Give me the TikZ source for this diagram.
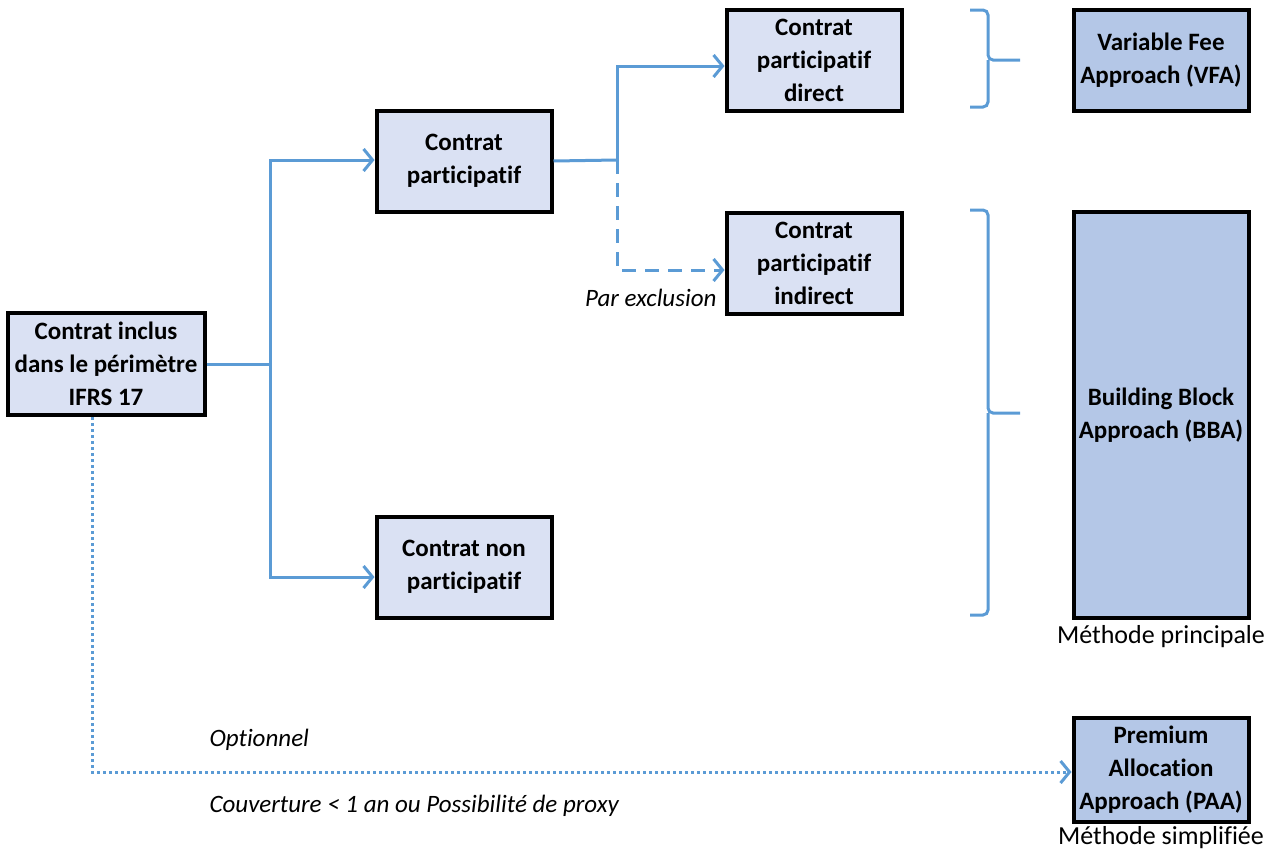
\documentclass[tikz,border=0pt]{standalone}
\usepackage{fontspec}
\setmainfont{Carlito}[Ligatures=NoCommon]
\usetikzlibrary{arrows.meta}
\definecolor{lienbleu}{HTML}{5B9BD5}
\definecolor{fondclair}{HTML}{DAE1F3}
\definecolor{fondfonce}{HTML}{B4C7E7}
\tikzset{
    boite/.style={draw=black, line width=4pt, fill=fondclair, align=center,
        minimum width=175pt, minimum height=101pt, inner sep=2pt,
        font=\fontsize{25}{33}\selectfont\bfseries},
    methode/.style={boite, fill=fondfonce},
    lien/.style={draw=lienbleu, line width=3pt},
    fleche/.style={lien, -{Straight Barb[length=9pt,width=22pt,line width=3pt]}},
    legende/.style={font=\fontsize{26}{30}\selectfont},
    note/.style={font=\fontsize{25}{30}\selectfont\itshape},
}
\begin{document}
\begin{tikzpicture}[x=1pt, y=-1pt]
    \useasboundingbox (0,0) rectangle (1277,854);
    % contrats
    \node[boite, minimum width=197pt, minimum height=102pt] (incl) at (106,364) {Contrat inclus\\dans le périmètre\\IFRS 17};
    \node[boite] (part) at (464,161) {Contrat\\participatif};
    \node[boite] (nonpart) at (464,567) {Contrat non\\participatif};
    \node[boite] (direct) at (814,60) {Contrat\\participatif\\direct};
    \node[boite] (indirect) at (814,263) {Contrat\\participatif\\indirect};
    % methodes
    \node[methode] (vfa) at (1161,60) {Variable Fee\\Approach (VFA)};
    \node[methode, minimum height=406pt] (bba) at (1161,415) {Building Block\\Approach (BBA)};
    \node[methode, minimum height=104pt] (paa) at (1161,770) {Premium\\Allocation\\Approach (PAA)};
    \node[legende] (princ) at (1161,637) {Méthode principale};
    \node[legende] (simpl) at (1161,838) {Méthode simplifiée};
    % liens
    \draw[lien] (incl.east) -- (270,364) coordinate (j1);
    \draw[fleche] (j1) |- ([yshift=1pt]part.west);
    \draw[fleche] (j1) |- ([yshift=-10pt]nonpart.west);
    \draw[lien] (part.east) -- (617,160) coordinate (j2);
    \draw[fleche] (j2) |- ([yshift=-6pt]direct.west);
    \draw[fleche, dash pattern=on 14pt off 9pt] (j2) |- ([yshift=-7pt]indirect.west);
    \node[note, anchor=east] (excl) at (720,298) {Par exclusion};
    \draw[fleche, dash pattern=on 3pt off 3pt] ([xshift=-14pt]incl.south) |- ([yshift=-2pt]paa.west);
    \node[note, anchor=west] (opt) at (206,740) {Optionnel};
    \node[note, anchor=west] (couv) at (206,806) {Couverture < 1 an ou Possibilité de proxy};
    % accolades
    \draw[lien, rounded corners=5pt] (970,10) -| (988,60) -- (1020,60);
    \draw[lien, rounded corners=5pt] (970,107) -| (988,60);
    \draw[lien, rounded corners=5pt] (970,210) -| (988,413) -- (1020,413);
    \draw[lien, rounded corners=5pt] (970,615) -| (988,413);
\end{tikzpicture}
\end{document}
